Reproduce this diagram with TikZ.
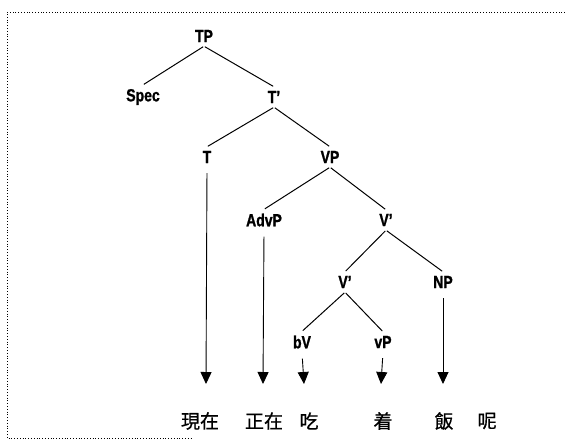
\documentclass[tikz,border=0pt]{standalone}
\usepackage{fontspec}
\setsansfont[FakeStretch=0.8, FakeBold=1.2]{Liberation Sans}
\newfontfamily\cjk[FakeBold=0.6]{Noto Sans CJK TC}
\usetikzlibrary{arrows.meta}

\begin{document}
\begin{tikzpicture}[x=1pt, y=-1pt, lab/.style={font=\sffamily\bfseries\fontsize{17.5}{19}\selectfont, inner xsep=1pt, inner ysep=4pt}, word/.style={font=\cjk\fontsize{19}{21}\selectfont, inner sep=0pt}, branch/.style={line width=1pt, shorten <=1pt, shorten >=1pt}, proj/.style={line width=0.9pt, -{Triangle[width=11pt,length=12pt]}, shorten <=6pt}]
\useasboundingbox (0,0) rectangle (565,440);
\draw[dotted, line width=0.8pt] (565,12) -- (7,12) -- (7,438) -- (192,438);
\node[lab] (TP) at (204,36) {TP};
\node[lab] (Spec) at (143,97) {Spec};
\node[lab] (Tbar) at (274,97) {T'};
\node[lab] (T) at (207,157) {T};
\node[lab] (VP) at (330,157) {VP};
\node[lab] (AdvP) at (264,220) {AdvP};
\node[lab] (Vbar1) at (386,220) {V'};
\node[lab] (Vbar2) at (345,282) {V'};
\node[lab] (NP) at (443,282) {NP};
\node[lab] (bV) at (302,342) {bV};
\node[lab] (vP) at (383,342) {vP};
\node[word] (w1) at (200,421) {現在};
\node[word] (w2) at (264,421) {正在};
\node[word] (w3) at (309,421) {吃};
\node[word] (w4) at (383,421) {着};
\node[word] (w5) at (444,421) {飯};
\node[word] (w6) at (487,421) {呢};
\coordinate (e1) at (206,384);
\coordinate (e2) at (263,384);
\coordinate (e3) at (304,384);
\coordinate (e4) at (381,384);
\coordinate (e5) at (443,384);
\path[branch]
(TP.south) edge (Spec.north)
(TP.south) edge (Tbar.north)
(Tbar.south) edge (T.north)
(Tbar.south) edge (VP.north)
(VP.south) edge (AdvP.north)
(VP.south) edge (Vbar1.north)
(Vbar1.south) edge (Vbar2.north)
(Vbar1.south) edge (NP.north)
(Vbar2.south) edge (bV.north)
(Vbar2.south) edge (vP.north);
\path[proj]
(T.south) edge (e1)
(AdvP.south) edge (e2)
(bV.south) edge (e3)
(vP.south) edge (e4)
(NP.south) edge (e5);
\end{tikzpicture}
\end{document}
